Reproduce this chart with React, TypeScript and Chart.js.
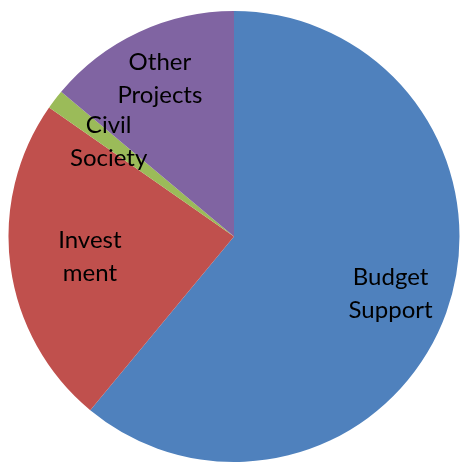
import React, { useEffect, useRef } from "react";
import { Chart, registerables } from "chart.js";

Chart.register(...registerables);

const categories: string[] = ["Budget Support", "Investment", "Civil Society", "Other Projects"];
const labelLines: string[][] = [["Budget", "Support"], ["Invest", "ment"], ["Civil", "Society"], ["Other", "Projects"]];
const shares: number[] = [61.0, 23.7, 1.4, 13.9];
const colors: string[] = ["#4F81BD", "#C0504D", "#9BBB59", "#8064A2"];

const sliceLabels = {
  id: "sliceLabels",
  afterDatasetsDraw(chart: any, _args: any, opts: any) {
    const ctx = chart.ctx;
    const meta = chart.getDatasetMeta(0);
    const fractions: number[] = opts.fractions;
    const lineGap: number = opts.lineGap;
    const capH: number = opts.capHeight;
    ctx.save();
    ctx.font = opts.font;
    ctx.fillStyle = "#000";
    ctx.textAlign = "center";
    ctx.textBaseline = "alphabetic";
    meta.data.forEach((arc: any, i: number) => {
      const p = arc.getProps(["x", "y", "startAngle", "endAngle", "outerRadius"], true);
      const mid = (p.startAngle + p.endAngle) / 2;
      const r = p.outerRadius * fractions[i];
      const cx = p.x + Math.cos(mid) * r;
      const cy = p.y + Math.sin(mid) * r;
      const lines = labelLines[i];
      const blockH = capH + (lines.length - 1) * lineGap;
      const firstBase = cy - blockH / 2 + capH;
      lines.forEach((t, j) => ctx.fillText(t, cx, firstBase + j * lineGap));
    });
    ctx.restore();
  },
};

export default function App() {
  const ref = useRef<HTMLCanvasElement | null>(null);
  useEffect(() => {
    if (!ref.current) return;
    const chart = new Chart(ref.current, {
      type: "pie",
      data: {
        labels: categories,
        datasets: [
          {
            data: shares,
            backgroundColor: colors,
            borderWidth: 0,
            hoverOffset: 0,
          },
        ],
      },
      options: {
        responsive: false,
        animation: false,
        devicePixelRatio: 1,
        layout: { padding: { left: 8.5, right: 0.5, top: 11, bottom: 1 } },
        plugins: {
          legend: { display: false },
          tooltip: { enabled: false },
          sliceLabels: {
            fractions: [0.738, 0.645, 0.7, 0.777],
            font: "24px Lato",
            lineGap: 33,
            capHeight: 17,
          },
        } as any,
      },
      plugins: [sliceLabels],
    });
    return () => chart.destroy();
  }, []);
  return (
    <div style={{ position: "absolute", left: 0, top: 0, width: 460, height: 463 }}>
      <canvas ref={ref} width={460} height={463} style={{ width: 460, height: 463, display: "block" }} />
    </div>
  );
}
